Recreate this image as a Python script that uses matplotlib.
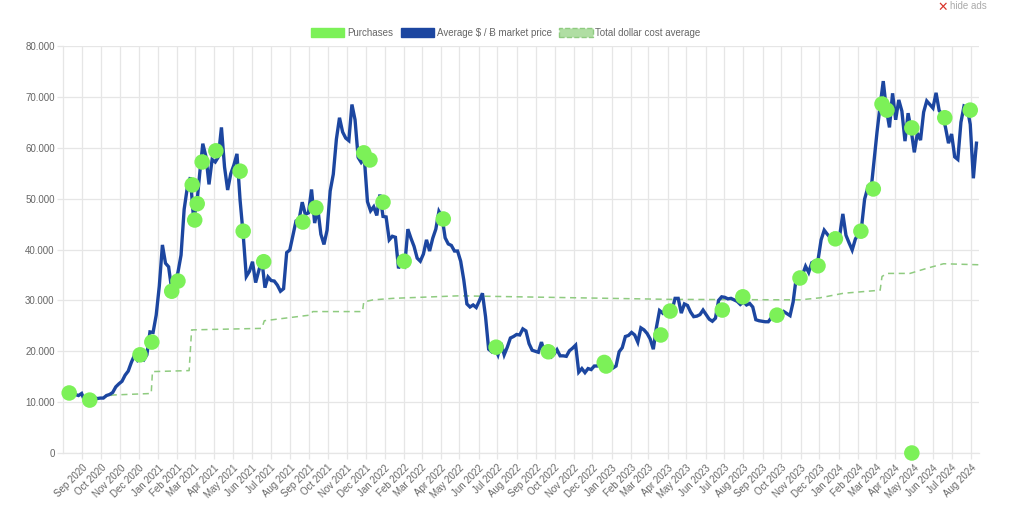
import numpy as np
import pandas as pd
import matplotlib
matplotlib.use("Agg")
import matplotlib.pyplot as plt
import matplotlib.dates as mdates
from matplotlib.patches import Patch
from matplotlib.ticker import FuncFormatter, MultipleLocator

plt.rcParams["font.family"] = ["Liberation Sans", "DejaVu Sans"]

# ---- market price, every 5 days from 2020-08-01 (thousand $) ----
price_k = [
    11.8, 11.7, 11.4, 11.9, 11.5, 11.3,
    11.7, 10.2, 10.3, 10.8, 10.9, 10.7,
    10.8, 10.8, 11.3, 11.5, 11.9, 13.0,
    13.6, 14.1, 15.3, 16.1, 17.8, 19.2,
    18.2, 18.7, 18.3, 19.3, 23.8, 23.7,
    27.1, 32.8, 40.9, 37.3, 36.6, 32.1,
    33.4, 35.5, 38.9, 47.9, 52.1, 54.2,
    46.3, 48.4, 54.9, 60.8, 58.3, 52.8,
    57.7, 57.2, 58.2, 64.0, 56.2, 51.7,
    54.9, 56.6, 58.8, 49.7, 42.9, 34.7,
    35.7, 37.6, 33.5, 35.8, 38.0, 32.5,
    34.6, 33.9, 33.8, 33.0, 31.8, 32.3,
    39.4, 39.9, 42.8, 45.6, 45.9, 49.3,
    46.9, 47.2, 51.8, 45.2, 48.1, 43.0,
    41.0, 43.8, 51.5, 54.8, 61.7, 65.9,
    63.1, 61.9, 61.4, 68.5, 65.5, 58.1,
    57.1, 57.8, 49.4, 47.6, 48.4, 46.7,
    50.8, 46.5, 46.4, 41.9, 42.6, 42.4,
    36.3, 37.7, 36.9, 44.0, 42.2, 40.6,
    38.3, 37.7, 39.1, 41.9, 39.7, 42.2,
    44.0, 47.5, 46.4, 42.3, 41.1, 40.8,
    39.7, 39.7, 37.7, 34.0, 29.3, 28.7,
    29.1, 28.6, 29.9, 31.4, 26.8, 20.4,
    19.9, 20.7, 19.3, 21.6, 19.3, 20.8,
    22.6, 22.9, 23.3, 23.2, 24.4, 24.0,
    21.5, 20.2, 20.0, 19.8, 21.8, 19.7,
    18.9, 18.8, 19.4, 20.3, 19.1, 19.1,
    19.0, 20.1, 20.6, 21.2, 15.9, 16.6,
    15.8, 16.6, 16.4, 17.1, 17.1, 17.8,
    16.4, 16.8, 16.6, 16.7, 17.1, 19.9,
    20.7, 22.9, 23.1, 23.7, 23.2, 21.8,
    24.6, 24.2, 23.5, 22.4, 20.4, 24.7,
    28.0, 27.5, 28.3, 27.8, 28.0, 30.4,
    30.4, 27.5, 29.3, 29.0, 27.7, 26.8,
    26.9, 27.2, 28.1, 27.2, 26.3, 25.9,
    26.5, 30.0, 30.7, 30.6, 30.3, 30.4,
    30.1, 29.8, 29.2, 29.7, 29.1, 29.4,
    28.7, 26.2, 26.0, 25.9, 25.8, 25.8,
    26.6, 27.2, 26.3, 27.0, 27.8, 27.4,
    27.0, 29.7, 34.5, 34.6, 35.0, 36.7,
    35.5, 37.4, 37.7, 37.9, 41.9, 43.8,
    43.0, 42.3, 43.0, 42.1, 42.8, 47.0,
    42.8, 41.3, 39.9, 42.0, 43.2, 44.3,
    49.9, 52.1, 51.3, 57.1, 63.1, 68.3,
    73.1, 67.6, 64.0, 70.7, 65.5, 69.4,
    67.2, 61.3, 66.8, 63.4, 59.1, 62.9,
    61.5, 67.0, 69.2, 68.5, 67.8, 70.8,
    67.3, 66.6, 64.1, 60.9, 62.7, 58.2,
    57.7, 65.0, 68.2, 67.9, 64.6, 54.0,
    60.9,
]
price_dates = pd.date_range("2020-08-01", periods=len(price_k), freq="5D")

# ---- total dollar cost average (thousand $) ----
dca_dates = ["2020-09-13", "2020-10-01", "2020-10-20", "2020-12-01", "2020-12-21",
             "2020-12-23", "2021-02-20", "2021-02-24", "2021-06-17", "2021-06-21",
             "2021-09-02", "2021-09-07", "2021-11-26", "2021-11-28", "2021-12-13",
             "2022-01-14", "2022-05-01", "2022-08-05", "2023-04-05", "2023-10-31",
             "2023-12-02", "2024-01-09", "2024-03-08", "2024-03-11", "2024-03-19",
             "2024-04-25", "2024-05-22", "2024-06-18", "2024-08-14"]
dca_k = [10.9, 10.8, 11.4, 11.6, 11.7, 16.0, 16.2, 24.2, 24.5, 26.0,
         27.1, 27.8, 27.8, 29.7, 30.1, 30.4, 30.9, 30.7, 30.2, 30.1,
         30.5, 31.4, 32.0, 34.7, 35.3, 35.3, 36.3, 37.2, 37.0]

# ---- purchases (thousand $) ----
buy_dates = ["2020-08-11", "2020-09-13", "2020-12-03", "2020-12-22", "2021-01-23",
             "2021-02-02", "2021-02-25", "2021-03-01", "2021-03-05", "2021-03-13",
             "2021-04-04", "2021-05-13", "2021-05-18", "2021-06-20", "2021-08-22",
             "2021-09-12", "2021-11-28", "2021-12-08", "2021-12-29", "2022-02-01",
             "2022-04-05", "2022-06-29", "2022-09-21", "2022-12-20", "2022-12-23",
             "2023-03-21", "2023-04-05", "2023-06-28", "2023-07-31", "2023-09-24",
             "2023-10-31", "2023-11-29", "2023-12-27", "2024-02-06", "2024-02-26",
             "2024-03-11", "2024-03-19", "2024-04-28", "2024-04-28", "2024-06-20",
             "2024-07-31"]
buy_k = [11.8, 10.4, 19.3, 21.8, 31.8, 33.8, 52.7, 45.8, 49.0, 57.2,
         59.4, 55.4, 43.6, 37.6, 45.4, 48.2, 59.0, 57.6, 49.3, 37.7,
         46.0, 20.8, 19.9, 17.8, 17.1, 23.2, 27.9, 28.1, 30.7, 27.1,
         34.4, 36.8, 42.1, 43.6, 51.9, 68.6, 67.4, 63.9, 0.0, 65.9,
         67.4]

month_ticks = pd.date_range("2020-09-01", "2024-08-01", freq="MS")

GREEN = "#7cf158"
BLUE = "#1c46a0"
DCA_COL = "#8fcb80"
GRID = "#e6e6e6"
TXT = "#666666"

fig = plt.figure(figsize=(10.24, 5.27), dpi=100)
ax = fig.add_axes([0.0615, 0.1404, 0.8945, 0.7723])

ax.plot(price_dates, np.array(price_k) * 1000, color=BLUE, lw=2.4,
        solid_joinstyle="miter", zorder=3)
ax.plot(pd.to_datetime(dca_dates), np.array(dca_k) * 1000, color=DCA_COL,
        lw=1.1, ls=(0, (4, 3)), zorder=2)
ax.scatter(pd.to_datetime(buy_dates), np.array(buy_k) * 1000, s=125,
           color=GREEN, edgecolor="none", zorder=4, clip_on=False)

ax.set_xlim(pd.Timestamp("2020-08-01"), pd.Timestamp("2024-08-14"))
ax.set_ylim(0, 80000)
ax.yaxis.set_major_locator(MultipleLocator(10000))
ax.yaxis.set_major_formatter(FuncFormatter(lambda v, p: f"{v:,.0f}".replace(",", ".")))
ax.set_xticks(month_ticks)
ax.xaxis.set_major_formatter(mdates.DateFormatter("%b %Y"))

ax.grid(True, color=GRID, lw=0.9, zorder=0)
ax.set_axisbelow(True)
for s in ["top", "right"]:
    ax.spines[s].set_visible(False)
for s in ["left", "bottom"]:
    ax.spines[s].set_color(GRID)
    ax.spines[s].set_linewidth(0.9)
ax.tick_params(axis="both", colors=GRID, length=4, width=0.9, labelcolor=TXT, labelsize=7)
ax.tick_params(axis="y", pad=2)
ax.tick_params(axis="x", pad=3)
for lbl in ax.get_xticklabels():
    lbl.set_rotation(45)
    lbl.set_ha("right")
    lbl.set_rotation_mode("anchor")

handles = [
    Patch(facecolor=GREEN, edgecolor=GREEN, label="Purchases"),
    Patch(facecolor=BLUE, edgecolor=BLUE, label="Average $ / Ƀ market price"),
    Patch(facecolor="#b0dea3", edgecolor=DCA_COL, ls="--", label="Total dollar cost average"),
]
fig.legend(handles=handles, loc="center", bbox_to_anchor=(0.494, 1 - 33 / 527),
           ncol=3, frameon=False, fontsize=7, labelcolor=TXT,
           handlelength=3.4, handleheight=1.0, handletextpad=0.3, columnspacing=0.8)

fig.text(0.915, 0.998, "✕", color="#d9342b", fontsize=9, ha="left", va="top",
         family=["DejaVu Sans"])
fig.text(0.928, 0.998, "hide ads", color="#aaaaaa", fontsize=7, ha="left", va="top")

fig.savefig("out.png", dpi=100)
